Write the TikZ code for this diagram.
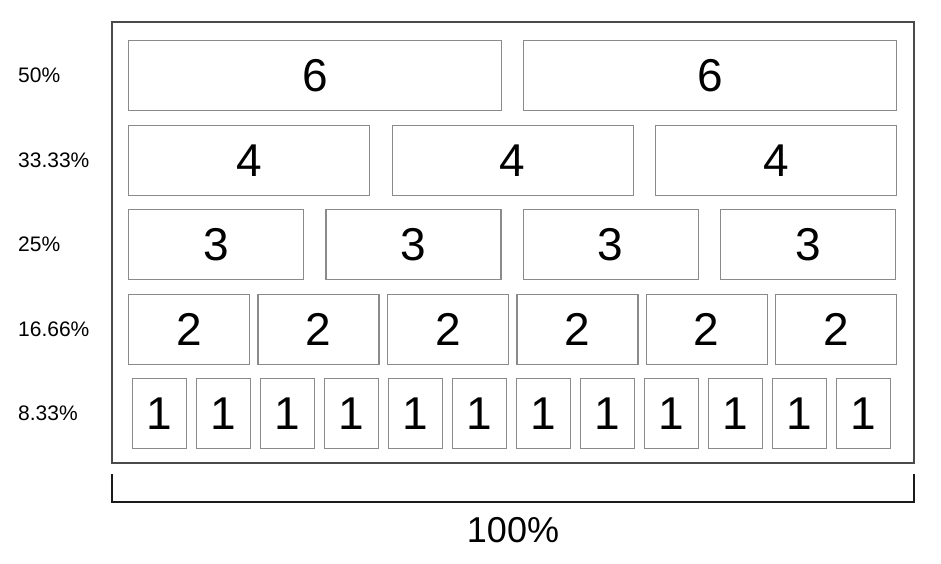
\documentclass[tikz,border=0pt]{standalone}
\usepackage{fontspec}
\setmainfont{Liberation Sans}
\usepackage{tikz}
\usetikzlibrary{positioning,calc}

\definecolor{cellgray}{HTML}{8A8A8A}
\definecolor{framegray}{HTML}{4A4A4A}
\definecolor{bracketblack}{HTML}{1A1A1A}

\tikzset{
  cell/.style={draw=cellgray,line width=1.3pt,rectangle,inner sep=0pt,
    minimum height=70pt,anchor=north west,
    font=\fontsize{46}{50}\selectfont},
  pct/.style={anchor=west,inner sep=0pt,font=\fontsize{21}{24}\selectfont},
}

\begin{document}
\begin{tikzpicture}[x=1pt,y=-1pt]
  \useasboundingbox (0,0) rectangle (941,564);

  % outer frame
  \draw[framegray,line width=2pt] (112,22) rectangle (914,463);

  % rows: top, count, width, pitch, first x, label, share
  \foreach \top/\n/\w/\p/\x/\lab/\share [count=\r] in
      {40/2/373/395/128/6/50\%,
       125/3/241/263.5/128/4/33.33\%,
       209/4/175/197.3/128/3/25\%,
       294/6/121/129.4/128/2/16.66\%,
       378/12/54/64/132/1/8.33\%}{
    \node[pct] (share\r) at (18,\top+35) {\share};
    \foreach \i in {1,...,\n}
      \node[cell,minimum width=\w pt] (b\r-\i) at ({\x+(\i-1)*\p},\top) {\lab};
  }

  % width bracket
  \coordinate (brL) at (112,474);
  \coordinate (brR) at (914,474);
  \draw[bracketblack,line width=2pt] (brL) |- (brR |- 0,502) -- (brR);
  \node[font=\fontsize{36}{40}\selectfont,inner sep=0pt] (full)
    at ($(brL)!0.5!(brR)+(0,56)$) {100\%};
\end{tikzpicture}
\end{document}
